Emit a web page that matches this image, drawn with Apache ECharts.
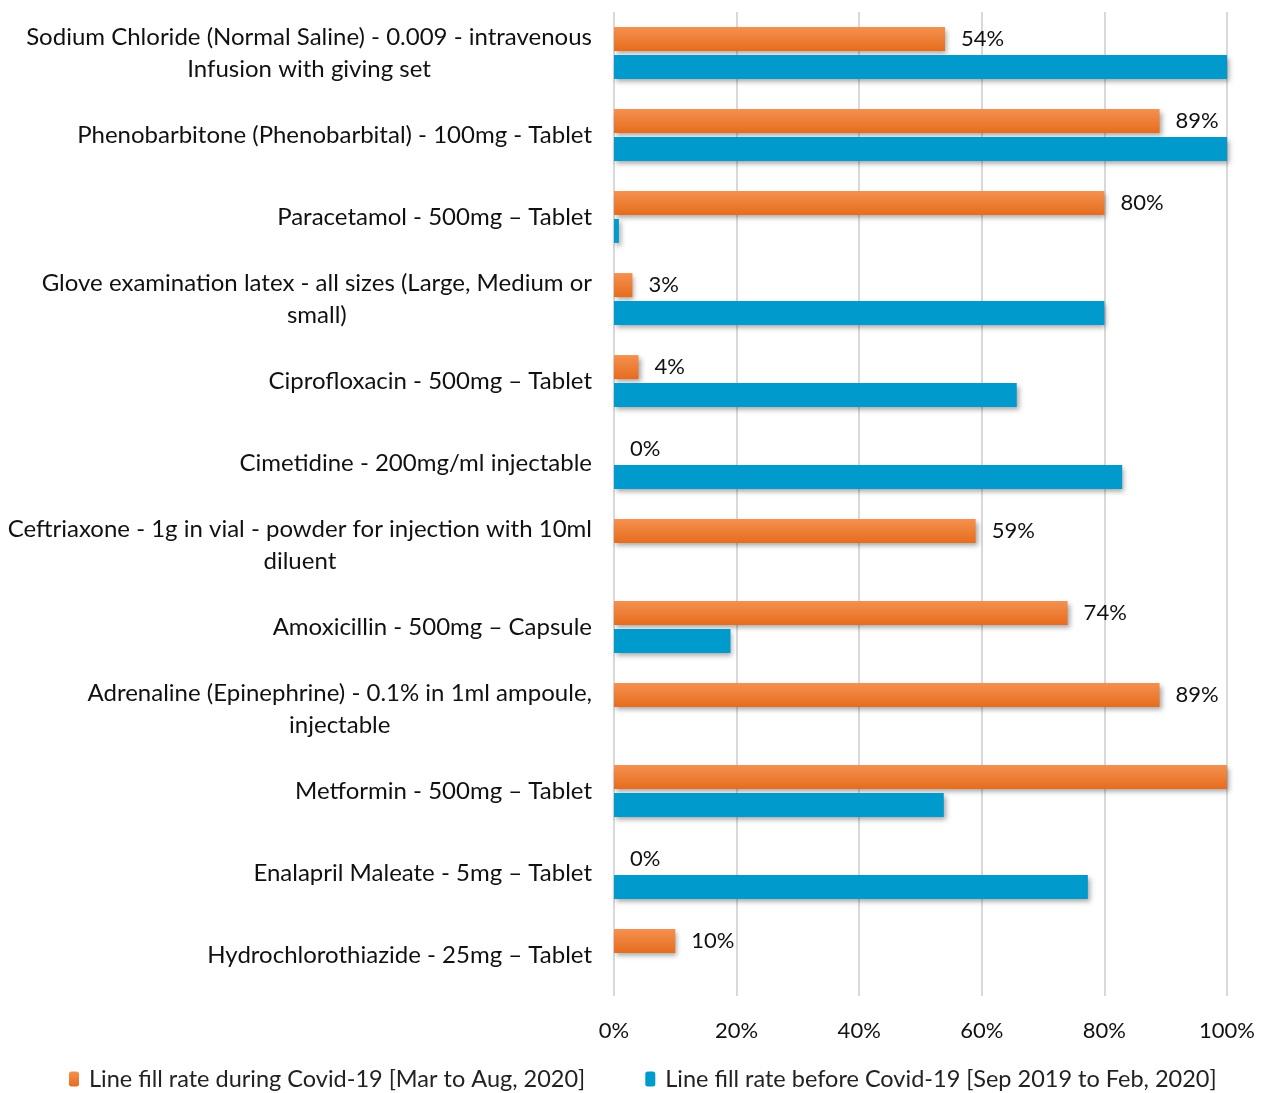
<!DOCTYPE html>
<html>
<head>
<meta charset="utf-8">
<script src="https://cdn.jsdelivr.net/npm/echarts@6/dist/echarts.min.js"></script>
<style>
html,body{margin:0;padding:0;background:#fff;}
#chart{width:1261px;height:1093px;}
</style>
</head>
<body>
<div id="chart"></div>
<script>
const categories = [
  "Sodium Chloride (Normal Saline) - 0.009 - intravenous\nInfusion with giving set",
  "Phenobarbitone (Phenobarbital) - 100mg - Tablet",
  "Paracetamol - 500mg – Tablet",
  "Glove examination latex - all sizes (Large, Medium or\nsmall)",
  "Ciprofloxacin - 500mg – Tablet",
  "Cimetidine - 200mg/ml injectable",
  "Ceftriaxone - 1g in vial - powder for injection with 10ml\ndiluent",
  "Amoxicillin - 500mg – Capsule",
  "Adrenaline (Epinephrine) - 0.1% in 1ml ampoule,\ninjectable",
  "Metformin - 500mg – Tablet",
  "Enalapril Maleate - 5mg – Tablet",
  "Hydrochlorothiazide - 25mg – Tablet"
];
const duringCovid = [54, 89, 80, 3, 4, 0, 59, 74, 89, 100, 0, 10];
const beforeCovid = [100, 100, 0.8, 80, 65.7, 82.9, 0, 19, 0, 53.8, 77.3, 0];
const seriesNames = [
  "Line fill rate during Covid-19 [Mar to Aug, 2020]",
  "Line fill rate before Covid-19 [Sep 2019 to Feb, 2020]"
];
const xTicks = [0, 20, 40, 60, 80, 100];

const FONT = "Lato";
const chart = echarts.init(document.getElementById('chart'));
const shadow = {shadowColor:'rgba(0,0,0,0.35)', shadowBlur:5, shadowOffsetX:2, shadowOffsetY:3};
chart.setOption({
  animation:false,
  textStyle:{fontFamily:FONT},
  grid:{left:614, right:34, top:12, bottom:97, containLabel:false},
  legend:{
    top:1062, left:64, itemGap:60, itemWidth:10, itemHeight:15,
    textStyle:{fontFamily:FONT, fontSize:23.5, color:'#222', padding:[0,0,0,5]},
    data:seriesNames
  },
  xAxis:{
    type:'value', min:xTicks[0], max:xTicks[xTicks.length-1], interval:20,
    axisLine:{show:false}, axisTick:{show:false},
    splitLine:{lineStyle:{color:'#d9d9d9', width:2}},
    axisLabel:{formatter:'{value}%', fontSize:22, color:'#111', margin:24, fontFamily:FONT}
  },
  yAxis:{
    type:'category', inverse:true, data:categories,
    axisLine:{show:false}, axisTick:{show:false},
    axisLabel:{
      margin:22, align:'right', color:'#111', fontSize:24, lineHeight:32, fontFamily:FONT,
      formatter:function(v){return v.split('\n').map(function(l){return '{c|'+l+'}';}).join('\n');},
      rich:{c:{align:'center', fontSize:24, lineHeight:32, fontFamily:FONT, color:'#111'}}
    }
  },
  series:[
    {
      name:seriesNames[0], type:'bar', data:duringCovid,
      barWidth:24, barGap:'16%',
      itemStyle:Object.assign({color:new echarts.graphic.LinearGradient(0,0,0,1,[{offset:0,color:'#F4914F'},{offset:1,color:'#E66C1D'}])}, shadow),
      label:{show:true, position:'right', distance:16, fontSize:22, color:'#111', fontFamily:FONT,
        formatter:function(p){return p.value>=100?'':p.value+'%';}}
    },
    {
      name:seriesNames[1], type:'bar', data:beforeCovid,
      barWidth:24, barGap:'16%',
      itemStyle:Object.assign({color:'#009ACD'}, shadow)
    }
  ]
});
</script>
</body>
</html>
